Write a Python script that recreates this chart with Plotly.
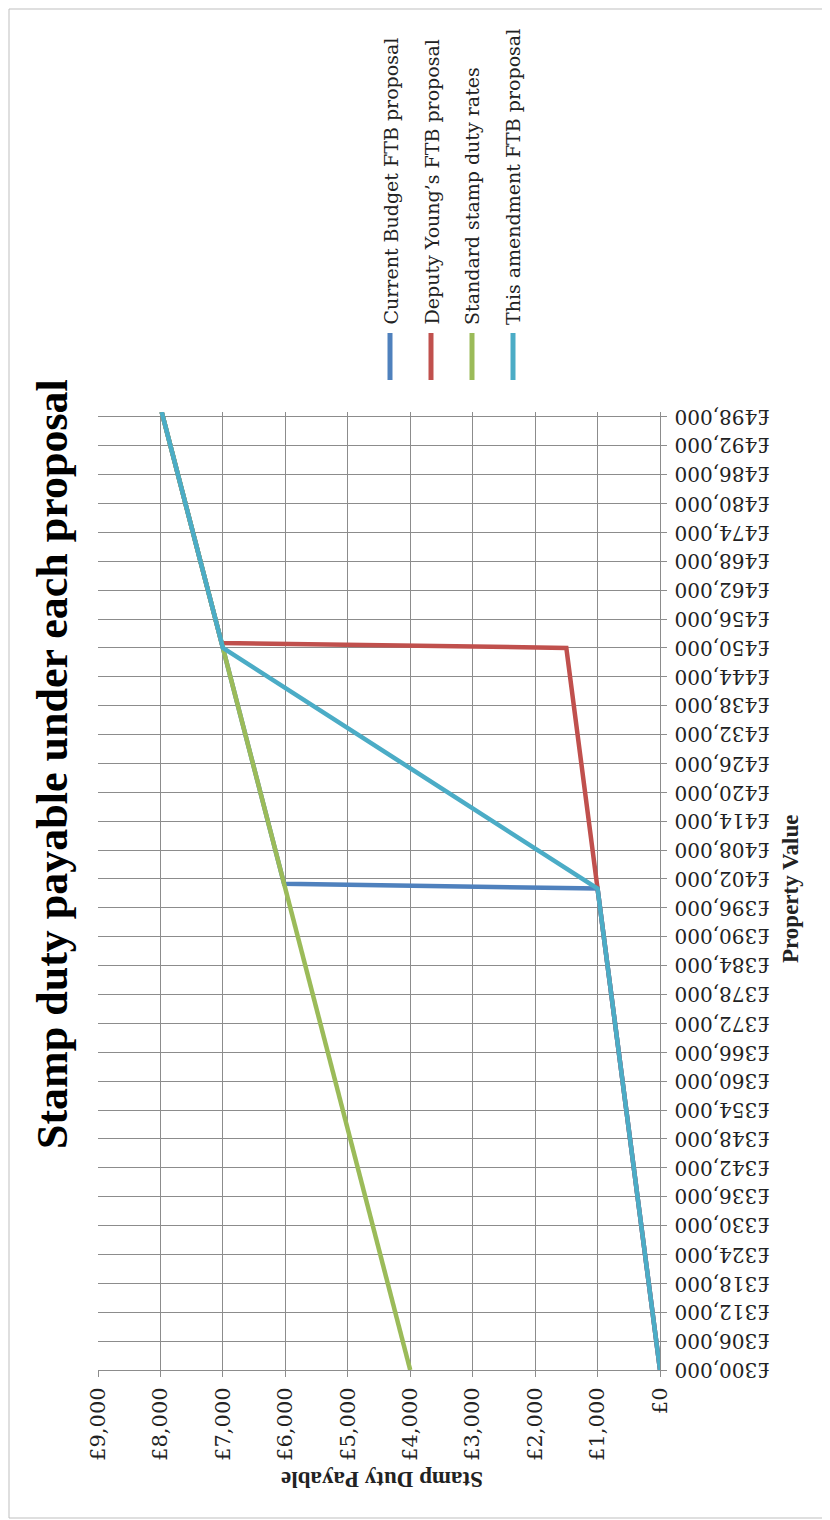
import plotly.graph_objects as go

# ---- data ----
series_names = ["Current Budget FTB proposal", "Deputy Young\u2019s FTB proposal",
                "Standard stamp duty rates", "This amendment FTB proposal"]
series_colors = ["#4F81BD", "#C0504D", "#9BBB59", "#4BACC6"]

budget_price = [300000, 400000, 401000, 450000, 499000]
budget_duty = [0, 1000, 6020, 7000, 7980]

young_price = [300000, 400000, 450000, 451000, 499000]
young_duty = [0, 1000, 1500, 7020, 7980]

standard_price = [300000, 400000, 450000, 499000]
standard_duty = [4000, 6000, 7000, 7980]

amend_price = [300000, 400000, 450000, 499000]
amend_duty = [0, 1000, 7000, 7980]

# property-value tick labels (every £6,000 from £300,000 to £498,000)
price_ticks = [300000, 306000, 312000, 318000, 324000, 330000, 336000, 342000,
               348000, 354000, 360000, 366000, 372000, 378000, 384000, 390000,
               396000, 402000, 408000, 414000, 420000, 426000, 432000, 438000,
               444000, 450000, 456000, 462000, 468000, 474000, 480000, 486000,
               492000, 498000]
duty_ticks = [0, 1000, 2000, 3000, 4000, 5000, 6000, 7000, 8000, 9000]

prices = [budget_price, young_price, standard_price, amend_price]
duties = [budget_duty, young_duty, standard_duty, amend_duty]

# ---- geometry (page has an 8px body margin) ----
OFF = 8
W, H = 830 - OFF, 1520 - OFF
L, R, T, B = 98 - OFF, 660 - OFF, 412 - OFF, 1370 - OFF


def px(x):  # page pixel -> paper fraction
    return (x - OFF - L) / (R - L)


def py(y):
    return (B - (y - OFF)) / (B - T)


SERIF = "Liberation Serif"
WIDE = "DejaVu Serif"
GRID = "#8C8C8C"

fig = go.Figure()
for name, col, xs, ys in zip(series_names, series_colors, prices, duties):
    fig.add_trace(go.Scatter(x=ys, y=xs, mode="lines", name=name,
                             line=dict(color=col, width=4.5), showlegend=False))

fig.update_layout(
    width=W, height=H,
    margin=dict(l=L, r=W - R, t=T, b=H - B),
    paper_bgcolor="white", plot_bgcolor="white",
    xaxis=dict(range=[9000, 0], tickvals=duty_ticks,
               ticktext=["\u00a3{:,}".format(v) for v in duty_ticks],
               tickangle=-90, showgrid=True, gridcolor=GRID,
               gridwidth=1, showline=True, linecolor=GRID, linewidth=1,
               ticks="outside", ticklen=6, tickcolor=GRID, zeroline=False,
               automargin=False,
               tickfont=dict(family=WIDE, size=21, color="#222"),
               ticklabelstandoff=2),
    yaxis=dict(range=[300000, 499000], tickvals=price_ticks, side="right",
               showticklabels=False,
               showgrid=True, gridcolor=GRID, gridwidth=1, showline=True,
               linecolor=GRID, linewidth=1, ticks="outside", ticklen=6,
               tickcolor=GRID, zeroline=False, automargin=False),
)

annotations = [
    dict(text="<b>Stamp duty payable under each proposal</b>", x=px(52), y=py(764),
         textangle=-90, font=dict(family=SERIF, size=44, color="#000")),
    dict(text="<b>Stamp Duty Payable</b>", x=px(382), y=py(1480),
         textangle=180, font=dict(family=SERIF, size=23, color="#222")),
    dict(text="<b>Property Value</b>", x=px(790), y=py(889),
         textangle=-90, font=dict(family=SERIF, size=23, color="#222")),
]
# upside-down property value labels
for v in price_ticks:
    annotations.append(dict(text="\u00a3{:,}".format(v), x=px(673), y=v,
                            yref="y", xanchor="left", textangle=180,
                            font=dict(family=WIDE, size=20, color="#222")))

legend_x = [390, 431, 472, 513]
shapes = []
for name, col, lx in zip(series_names, series_colors, legend_x):
    annotations.append(dict(text=name, x=px(lx), y=py(327), yanchor="bottom",
                            textangle=-90,
                            font=dict(family=WIDE, size=19, color="#222")))
    shapes.append(dict(type="line", xref="paper", yref="paper",
                       x0=px(lx), x1=px(lx), y0=py(333), y1=py(380),
                       line=dict(color=col, width=5)))
for a in annotations:
    a.setdefault("xref", "paper")
    a.setdefault("yref", "paper")
    a.setdefault("showarrow", False)
    a.setdefault("xanchor", "center")
    a.setdefault("yanchor", "middle")

shapes.append(dict(type="rect", xref="paper", yref="paper",
                   x0=px(9), x1=px(828), y0=py(1518), y1=py(9),
                   line=dict(color="#BFBFBF", width=1)))
fig.update_layout(annotations=annotations, shapes=shapes)

fig.write_html("out.html")
